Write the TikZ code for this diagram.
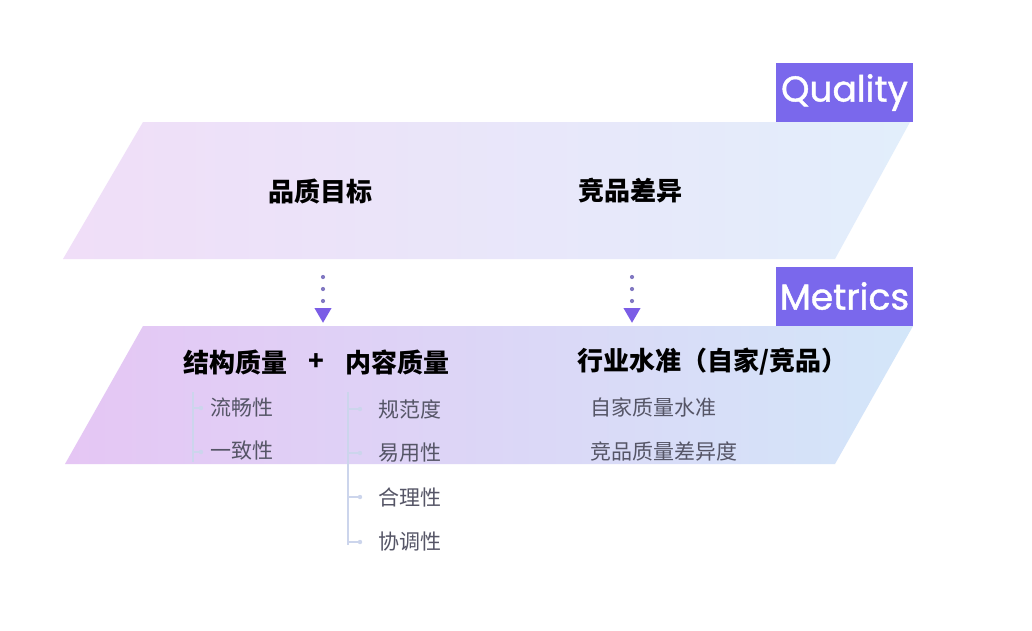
\documentclass[tikz,border=0pt]{standalone}
\usepackage{fontspec}
\newfontfamily\cjk{Noto Sans CJK SC}
\newfontfamily\tagfont[FakeBold=1.2]{Poppins}
\usetikzlibrary{arrows.meta}
\definecolor{tagpurple}{HTML}{7A68EC}
\definecolor{arrowpurple}{HTML}{7B5DE6}
\definecolor{dotgray}{HTML}{8279C2}
\definecolor{itemgray}{HTML}{555566}
\definecolor{treeline}{HTML}{CCD5EC}
\definecolor{topL}{HTML}{F0DEF8}
\definecolor{topM}{HTML}{E9E7F9}
\definecolor{topR}{HTML}{E2EEFB}
\definecolor{botL}{HTML}{E5C6F4}
\definecolor{botM}{HTML}{DBD5F5}
\definecolor{botR}{HTML}{D3E6F9}
\tikzset{
  heading/.style={font=\cjk\bfseries\fontsize{26}{26}\selectfont, text=black, inner sep=0pt},
  item/.style={font=\cjk\fontsize{21}{21}\selectfont, text=itemgray, anchor=west, inner sep=0pt},
  tagbox/.style={fill=tagpurple, text=white, minimum width=137pt, minimum height=59pt,
    inner sep=0pt, font=\tagfont\fontsize{36}{36}\selectfont},
  dotarrow/.style={dotgray, line width=4.2pt, line cap=round, dash pattern=on 0pt off 12pt,
    -{Triangle[width=16pt, length=15pt, color=arrowpurple]}},
  branch/.style={treeline, line width=1.2pt}
}
\begin{document}
\begin{tikzpicture}[x=1pt, y=-1pt]
  \useasboundingbox[fill=white] (0,0) rectangle (1032,630);
  % bands
  \shade[left color=topL, middle color=topM, right color=topR]
    (143,122) -- (910,122) -- (835,259) -- (63,259) -- cycle;
  \shade[left color=botL, middle color=botM, right color=botR]
    (143,326) -- (913,326) -- (835,464) -- (65,464) -- cycle;
  % tags
  \node[tagbox] (quality) at (844.5,92.5) {Quality};
  \node[tagbox] (metrics) at (844.5,296) {Metrics};
  % top band labels
  \node[heading] (goal) at (320,191) {品质目标};
  \node[heading] (diff) at (630,191) {竞品差异};
  % bottom band labels
  \node[heading] (struct) at (235,362) {结构质量};
  \node[heading] (plus) at (316,362) {+};
  \node[heading] (content) at (397,362) {内容质量};
  \node[heading, anchor=west] (level) at (577,362) {行业水准（自家/竞品）};
  % arrows
  \coordinate (a1) at (323,277);
  \coordinate (b1) at (323,323);
  \coordinate (a2) at (632,277);
  \coordinate (b2) at (632,323);
  \draw[dotarrow] (a1) -- (b1);
  \draw[dotarrow] (a2) -- (b2);
  % branches
  \draw[branch] (193,392) -- (193,462);
  \foreach \y in {408,452} {
    \draw[branch] (193,\y) -- (201,\y);
    \fill[treeline] (201,\y) circle (2.2pt);
  }
  \draw[branch] (348,392) -- (348,545);
  \foreach \y in {409,453,497,542} {
    \draw[branch] (348,\y) -- (360,\y);
    \fill[treeline] (360,\y) circle (2.2pt);
  }
  % items
  \foreach \n/\y/\t in {s1/407/流畅性, s2/451/一致性} {
    \node[item] (\n) at (210,\y) {\t};
  }
  \foreach \n/\y/\t in {c1/409/规范度, c2/453/易用性, c3/497/合理性, c4/542/协调性} {
    \node[item] (\n) at (378,\y) {\t};
  }
  \foreach \n/\y/\t in {l1/407/自家质量水准, l2/451/竞品质量差异度} {
    \node[item] (\n) at (590,\y) {\t};
  }
\end{tikzpicture}
\end{document}
